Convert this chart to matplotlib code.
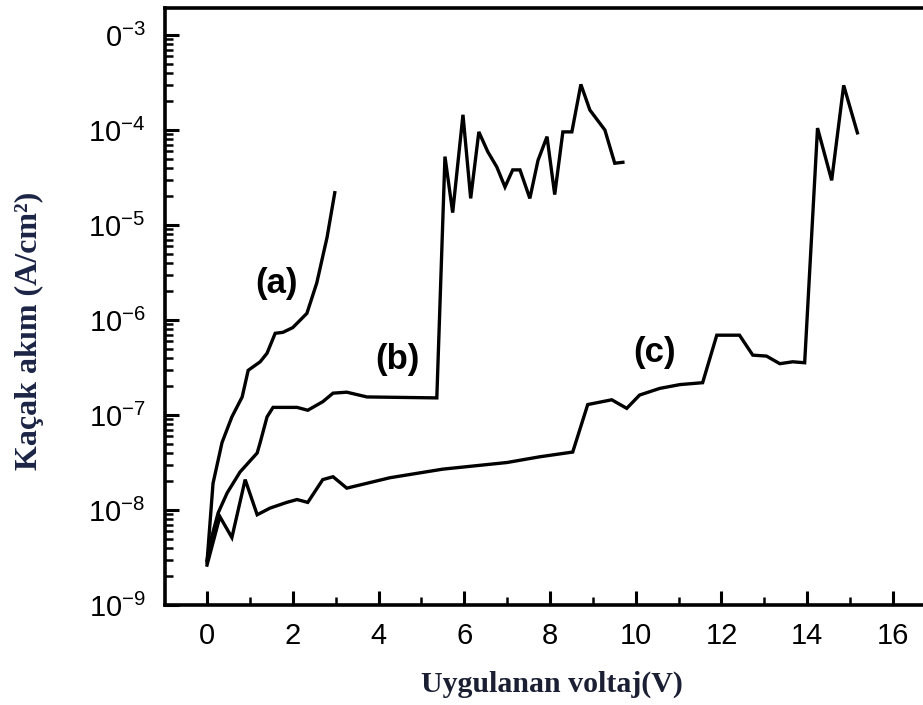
import matplotlib
matplotlib.use("Agg")
import matplotlib.pyplot as plt
import numpy as np
from matplotlib.ticker import FixedLocator, FixedFormatter, LogLocator, NullFormatter, MultipleLocator

plt.rcParams["mathtext.fontset"] = "custom"
plt.rcParams["mathtext.rm"] = "Liberation Sans"
plt.rcParams["mathtext.it"] = "Liberation Sans"

# curve (a): voltage (V) and log10 of leakage current (A/cm^2)
a_v = [0.0, 0.14, 0.35, 0.58, 0.82, 0.96, 1.24, 1.40, 1.59, 1.77, 2.0, 2.33, 2.56, 2.80, 2.98]
a_log = [-8.55, -7.72, -7.29, -7.02, -6.81, -6.53, -6.44, -6.35, -6.14, -6.13, -6.08, -5.93,
         -5.61, -5.13, -4.66]

# curve (b)
b_v = [0.0, 0.07, 0.26, 0.47, 0.77, 1.17, 1.24, 1.40, 1.54, 2.10, 2.35, 2.70, 2.94, 3.26, 3.73,
       5.36, 5.55, 5.73, 5.97, 6.15, 6.34, 6.55, 6.76, 6.95, 7.13, 7.30, 7.53, 7.72, 7.93, 8.11,
       8.30, 8.51, 8.72, 8.93, 9.28, 9.51, 9.70]
b_log = [-8.53, -8.35, -8.03, -7.82, -7.60, -7.40, -7.29, -7.02, -6.92, -6.92, -6.95, -6.86,
         -6.77, -6.76, -6.81, -6.82, -4.28, -4.87, -3.84, -4.72, -4.02, -4.23, -4.39, -4.60,
         -4.42, -4.42, -4.72, -4.32, -4.07, -4.68, -4.02, -4.02, -3.52, -3.79, -4.00, -4.35, -4.34]

# curve (c)
c_v = [0.0, 0.30, 0.58, 0.89, 1.17, 1.47, 1.86, 2.10, 2.35, 2.70, 2.94, 3.26, 4.27, 5.5, 7.0,
       7.76, 8.53, 8.88, 9.44, 9.79, 10.09, 10.56, 11.03, 11.56, 11.89, 12.42, 12.73, 13.05,
       13.36, 13.66, 13.94, 14.24, 14.57, 14.85, 15.17]
c_log = [-8.58, -8.07, -8.29, -7.68, -8.05, -7.98, -7.92, -7.89, -7.92, -7.68, -7.65, -7.77,
         -7.66, -7.57, -7.50, -7.44, -7.39, -6.89, -6.84, -6.93, -6.79, -6.72, -6.68, -6.66,
         -6.16, -6.16, -6.37, -6.38, -6.46, -6.44, -6.45, -3.98, -4.53, -3.53, -4.03]

curve_labels = ["(a)", "(b)", "(c)"]
label_v = [1.63, 4.45, 10.44]
label_log = [-5.62, -6.42, -6.34]

y_ticks = [1e-9, 1e-8, 1e-7, 1e-6, 1e-5, 1e-4, 1e-3]
y_ticklabels = ["10$^{-9}$", "10$^{-8}$", "10$^{-7}$", "10$^{-6}$", "10$^{-5}$", "10$^{-4}$", "0$^{-3}$"]
x_ticks = [0, 2, 4, 6, 8, 10, 12, 14, 16]

fig = plt.figure(figsize=(9.23, 7.05), dpi=100)
ax = fig.add_axes([165 / 923, 1 - 605 / 705, (935 - 165) / 923, (605 - 8) / 705])

for v, lg in [(a_v, a_log), (b_v, b_log), (c_v, c_log)]:
    ax.plot(v, 10 ** np.array(lg), color="black", linewidth=2.4, solid_joinstyle="miter")

for txt, v, lg in zip(curve_labels, label_v, label_log):
    ax.text(v, 10 ** lg, txt, fontsize=25, fontweight="bold", family="Liberation Sans",
            ha="center", va="center")

ax.set_yscale("log")
ax.set_xlim(-0.98, 16.98)
ax.set_ylim(1e-9, 10 ** -2.716)

ax.yaxis.set_major_locator(FixedLocator(y_ticks))
ax.yaxis.set_major_formatter(FixedFormatter(y_ticklabels))
ax.yaxis.set_minor_locator(LogLocator(base=10, subs=np.arange(2, 10)))
ax.yaxis.set_minor_formatter(NullFormatter())
ax.xaxis.set_major_locator(FixedLocator(x_ticks))
ax.xaxis.set_minor_locator(MultipleLocator(1))

ax.tick_params(axis="both", which="major", direction="in", length=10, width=2.2,
               labelsize=21, pad=12, right=False, top=False)
ax.tick_params(axis="y", which="major", pad=14)
ax.tick_params(axis="both", which="minor", direction="in", length=6, width=1.8,
               right=False, top=False)
for lab in ax.get_xticklabels() + ax.get_yticklabels():
    lab.set_family("Liberation Sans")

for s in ax.spines.values():
    s.set_linewidth(2.6)

ax.set_xlabel("Uygulanan voltaj(V)", family="Liberation Serif", fontweight="bold",
              fontsize=21.5, color="#1b1f33")
ax.xaxis.set_label_coords(0.503, -0.110)
ax.set_ylabel("Kaçak akım (A/cm²)", family="Liberation Serif", fontweight="bold",
              fontsize=23, color="#1b2444")
ax.yaxis.set_label_coords(-0.157, 0.459)

fig.savefig("out.png", dpi=100)
